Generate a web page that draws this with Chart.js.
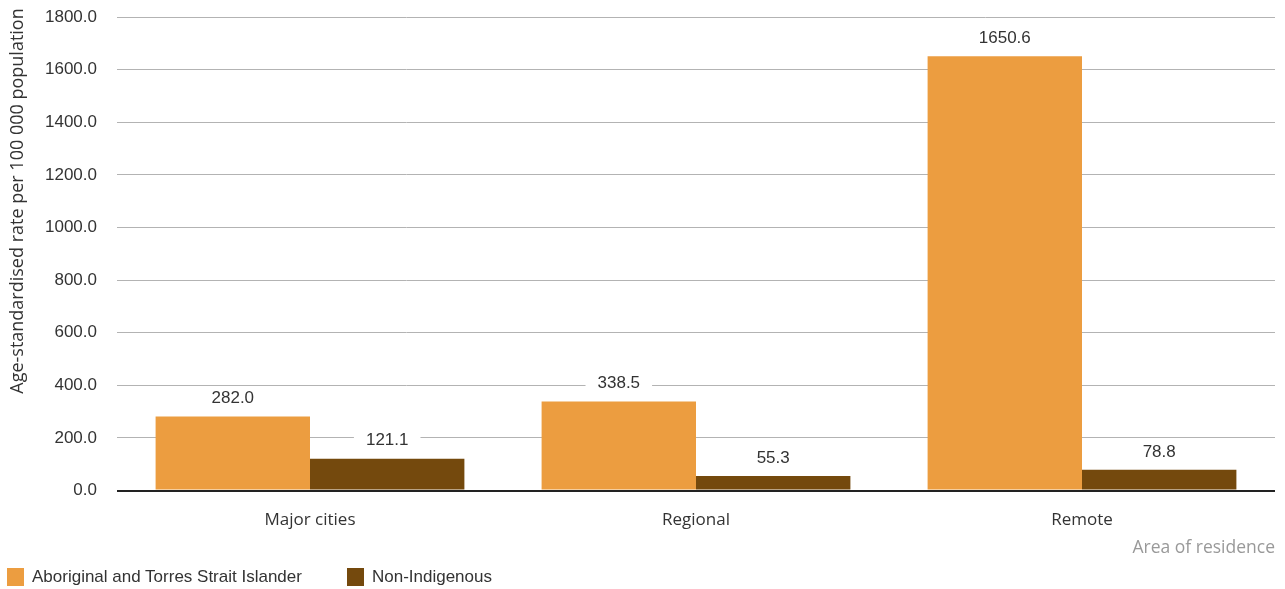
<!DOCTYPE html>
<html>
<head>
<meta charset="utf-8">
<script src="https://cdn.jsdelivr.net/npm/chart.js@4.4.0/dist/chart.umd.min.js"></script>
<style>
  html, body { margin: 0; padding: 0; background: #fff; }
  #wrap { width: 1285px; height: 589px; position: relative; }
  #legend { position: absolute; left: 7px; top: 567px; font: 17px "Liberation Sans", Arial, sans-serif; color: #333; }
  #legend span.item { display: inline-block; margin-right: 45px; line-height: 18px; }
  #legend span.box { display: inline-block; width: 17px; height: 18px; vertical-align: top; margin-right: 8px; }
</style>
</head>
<body>
<div id="wrap">
  <canvas id="chart"></canvas>
  <div id="legend"></div>
</div>
<script>
// data
const categories = ['Major cities', 'Regional', 'Remote'];
const indigenous = [282.0, 338.5, 1650.6];
const nonIndigenous = [121.1, 55.3, 78.8];
const seriesNames = ['Aboriginal and Torres Strait Islander', 'Non-Indigenous'];
const seriesColors = ['#EC9D40', '#74490D'];
const yTitle = 'Age-standardised rate per 100 000 population';

// value labels with a white box behind them
const valueLabels = {
    id: 'valueLabels',
    afterDatasetsDraw(chart) {
        const ctx = chart.ctx;
        ctx.save();
        ctx.font = '17px "Liberation Sans", Arial, sans-serif';
        ctx.textAlign = 'center';
        ctx.textBaseline = 'middle';
        chart.data.datasets.forEach(function (ds, i) {
            const meta = chart.getDatasetMeta(i);
            meta.data.forEach(function (bar, j) {
                const txt = ds.data[j].toFixed(1);
                const w = ctx.measureText(txt).width + 24;
                const y = bar.y - 18;
                ctx.fillStyle = '#fff';
                ctx.fillRect(bar.x - w / 2, y - 10, w, 20);
                ctx.fillStyle = '#333';
                ctx.fillText(txt, bar.x, y);
            });
        });
        ctx.restore();
    }
};

// y title sits a bit above the middle of the plot, so draw it by hand
const yTitlePlugin = {
    id: 'yTitle',
    afterDraw(chart) {
        const ctx = chart.ctx;
        ctx.save();
        ctx.translate(18, 201);
        ctx.rotate(-Math.PI / 2);
        ctx.font = '18px "Open Sans", sans-serif';
        ctx.fillStyle = '#333';
        ctx.textAlign = 'center';
        ctx.textBaseline = 'middle';
        ctx.fillText(yTitle, 0, 0);
        ctx.restore();
    }
};

const ctx = document.getElementById('chart').getContext('2d');
const chart = new Chart(ctx, {
    type: 'bar',
    data: {
        labels: categories,
        datasets: [{
            label: seriesNames[0],
            data: indigenous,
            backgroundColor: seriesColors[0]
        }, {
            label: seriesNames[1],
            data: nonIndigenous,
            backgroundColor: seriesColors[1]
        }]
    },
    options: {
        responsive: true,
        maintainAspectRatio: false,
        animation: false,
        layout: { padding: { left: 25, right: 10, top: 17, bottom: 30 } },
        datasets: { bar: { barPercentage: 1.0, categoryPercentage: 0.8 } },
        scales: {
            x: {
                grid: { display: false },
                border: { display: false },
                ticks: {
                    color: '#333',
                    padding: 11,
                    font: { family: '"Open Sans", sans-serif', size: 17 }
                },
                title: {
                    display: true,
                    text: 'Area of residence',
                    align: 'end',
                    color: '#999',
                    font: { family: '"Open Sans", sans-serif', size: 17.5 },
                    padding: { top: -3, bottom: 0 }
                }
            },
            y: {
                min: 0,
                max: 1800,
                border: { display: false },
                afterFit: function (scale) {
                    scale.paddingTop = 0;
                    scale.paddingBottom = 0;
                },
                grid: {
                    drawTicks: false,
                    color: function (c) { return c.tick.value === 0 ? '#222' : '#b3b3b3'; },
                    lineWidth: function (c) { return c.tick.value === 0 ? 2 : 1; }
                },
                ticks: {
                    stepSize: 200,
                    padding: 20,
                    color: '#333',
                    font: { family: '"Liberation Sans", Arial, sans-serif', size: 17 },
                    callback: function (v) { return v.toFixed(1); }
                }
            }
        },
        plugins: {
            legend: { display: false },
            tooltip: { enabled: false }
        }
    },
    plugins: [valueLabels, yTitlePlugin]
});

// legend as html text under the chart
const legend = document.getElementById('legend');
seriesNames.forEach(function (name, i) {
    const item = document.createElement('span');
    item.className = 'item';
    const box = document.createElement('span');
    box.className = 'box';
    box.style.background = seriesColors[i];
    item.appendChild(box);
    item.appendChild(document.createTextNode(name));
    legend.appendChild(item);
});
</script>
</body>
</html>
